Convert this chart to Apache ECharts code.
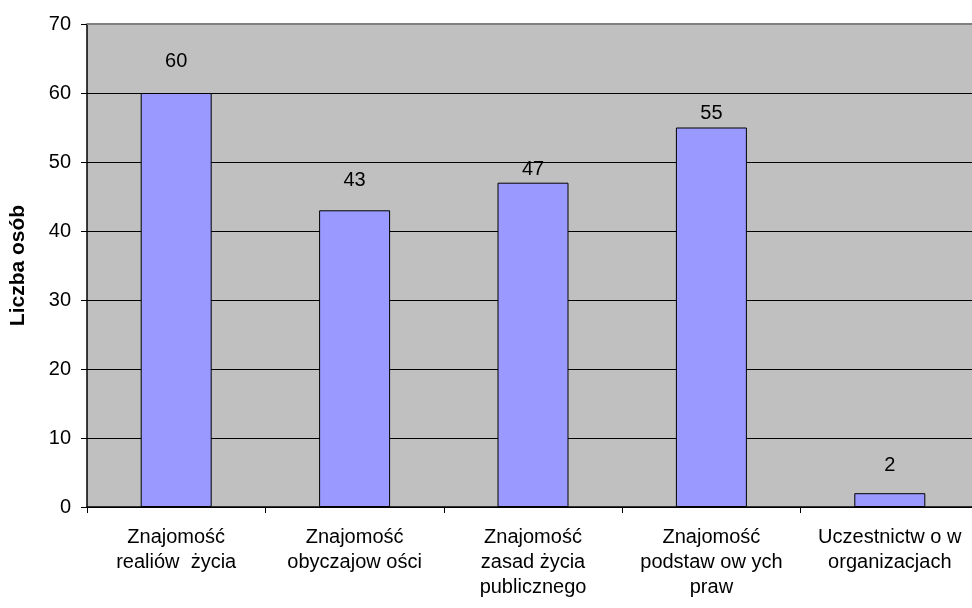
<!DOCTYPE html>
<html><head><meta charset="utf-8">
<script src="https://cdn.jsdelivr.net/npm/echarts@6/dist/echarts.min.js"></script>
<style>html,body{margin:0;padding:0;background:#fff;overflow:hidden}#c{width:980px;height:608px}</style>
</head><body><div id="c"></div>
<script>
const categories = ["Znajomość\nrealiów  życia", "Znajomość\nobyczajow ości", "Znajomość\nzasad życia\npublicznego", "Znajomość\npodstaw ow ych\npraw", "Uczestnictw o w\norganizacjach"];
const values = [60, 43, 47, 55, 2];
const yTicks = { min: 0, max: 70, interval: 10 };
const yTitle = "Liczba osób";

const labelGaps = [22, 20, 3, 4, 18];
const FONT = 'Liberation Sans, Arial, sans-serif';
const chart = echarts.init(document.getElementById('c'), null, {renderer: 'canvas'});
chart.setOption({
  animation: false,
  grid: { left: 87, top: 24, right: 1, bottom: 101, containLabel: false, show: true, backgroundColor: '#C0C0C0', borderWidth: 0 },
  xAxis: {
    type: 'category', data: categories,
    axisLine: { show: true, lineStyle: { color: '#000', width: 1.5 } },
    axisTick: { show: true, inside: false, length: 6, alignWithLabel: false, lineStyle: { color: '#000' } },
    axisLabel: { color: '#000', fontSize: 20, fontFamily: FONT, lineHeight: 25, margin: 18, interval: 0 },
    splitLine: { show: false }
  },
  yAxis: {
    type: 'value', min: yTicks.min, max: yTicks.max, interval: yTicks.interval,
    name: yTitle, nameLocation: 'middle', nameGap: 58, nameRotate: 90,
    nameTextStyle: { color: '#000', fontSize: 21, fontWeight: 'bold', fontFamily: FONT },
    axisLine: { show: true, lineStyle: { color: '#000', width: 1.5 } },
    axisTick: { show: true, length: 6, lineStyle: { color: '#000' } },
    axisLabel: { color: '#000', fontSize: 20, fontFamily: FONT, margin: 16 },
    splitLine: { show: true, lineStyle: { color: '#000', width: 1 } }
  },
  series: [{
    type: 'bar', barWidth: 71,
    data: values.map((v, i) => ({ value: v, label: { distance: labelGaps[i] } })),
    itemStyle: { color: '#9999FF', borderColor: '#000', borderWidth: 1 },
    label: { show: true, position: 'top', color: '#000', fontSize: 20, fontFamily: FONT }
  }],
  graphic: [{ type: 'line', shape: { x1: 87, y1: 24, x2: 980, y2: 24 }, style: { stroke: '#808080', lineWidth: 2 }, z: 10 }]
});
</script></body></html>
